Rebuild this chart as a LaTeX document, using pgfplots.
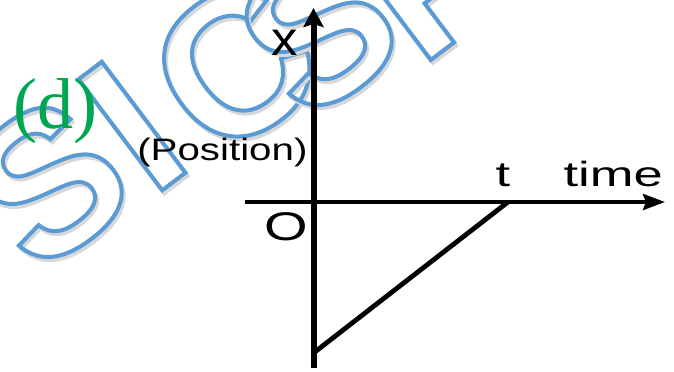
\documentclass[border=0pt]{standalone}
\usepackage{pgfplots}
\pgfplotsset{compat=1.18}
\usepackage{fontspec}
\setmainfont{Liberation Sans}
\newfontfamily\serifd{Liberation Serif}
\usetikzlibrary{arrows.meta}
\definecolor{wm}{RGB}{91,155,213}
\definecolor{wmsh}{RGB}{215,215,215}
\definecolor{dgreen}{RGB}{0,166,81}
\newcommand\outl[1]{\special{pdf:literal direct 1 Tr 2 w}#1\special{pdf:literal direct 0 Tr}}
\tikzset{wmk/.style={overlay, rotate=37, inner sep=0pt, text=wm, font=\bfseries\fontsize{101}{101}\selectfont},
         wms/.style={wmk, text=wmsh}}
\newcommand\wmletter[3]{%
  \node[wms] at (axis cs:#1+2,#2+3) {\outl{#3}};
  \node[wmk] at (axis cs:#1,#2) {\outl{#3}};}
\begin{document}
\begin{tikzpicture}
\begin{axis}[scale only axis, width=337pt, height=184pt,
  xmin=0, xmax=674, ymin=0, ymax=368, y dir=reverse,
  hide axis, clip=false, set layers]
\addplot[draw=none] coordinates {(0,0) (674,368)};
\begin{pgfonlayer}{axis background}
\wmletter{-62}{266}{Y}
\wmletter{48}{182}{S}
\wmletter{132}{126}{I}
\wmletter{234}{66}{C}
\wmletter{318}{30}{S}
\wmletter{432}{-28}{P}
\end{pgfonlayer}
% axes and graph
\addplot[black, line width=3pt, -{Stealth[length=9.5pt, width=10pt, inset=1.5pt]}] coordinates {(313.5,368) (313.5,8)};
\addplot[black, line width=2pt, -{Stealth[length=11pt, width=8pt, inset=1.5pt]}] coordinates {(245,202) (665,202)};
\addplot[black, line width=2.4pt] coordinates {(313.5,353) (508,202)};
% labels
\node[inner sep=0pt, xscale=1.1, font=\fontsize{24}{24}\selectfont] at (axis cs:285,43) {x};
\node[inner sep=0pt, anchor=base east, xscale=1.3, font=\fontsize{15.5}{16}\selectfont] at (axis cs:308,160) {(Position)};
\node[inner sep=0pt, xscale=1.4, font=\fontsize{20}{20}\selectfont] at (axis cs:286,227) {O};
\node[inner sep=0pt, anchor=base, xscale=1.5, font=\fontsize{17.5}{18}\selectfont] at (axis cs:503,186) {t};
\node[inner sep=0pt, anchor=base west, xscale=1.5, font=\fontsize{17.5}{18}\selectfont] at (axis cs:563,186) {time};
\node[inner sep=0pt, anchor=base west, text=dgreen, font=\serifd\fontsize{36}{36}\selectfont] at (axis cs:13,128) {(d)};
\end{axis}
\end{tikzpicture}
\end{document}
